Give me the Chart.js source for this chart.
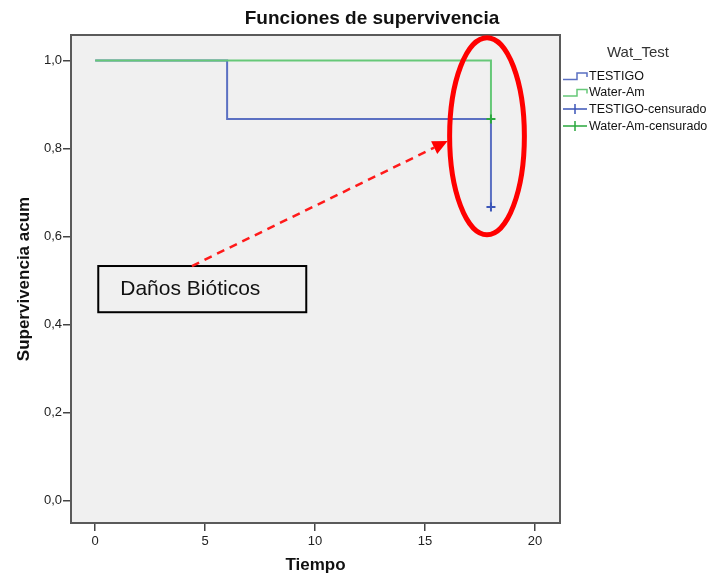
<!DOCTYPE html>
<html lang="es">
<head>
<meta charset="utf-8">
<title>Funciones de supervivencia</title>
<script src="https://cdn.jsdelivr.net/npm/chart.js@4.4.1/dist/chart.umd.min.js"></script>
<style>
  html, body { margin: 0; padding: 0; background: #fff; }
  #wrap { width: 715px; height: 579px; position: relative; }
</style>
</head>
<body>
<div id="wrap"><canvas id="chart"></canvas></div>
<script>
// Kaplan-Meier steps
const tiemposTestigo = [0, 6, 18];
const survTestigo = [1.0, 0.867, 0.667];
const tiemposWater = [0, 18];
const survWater = [1.0, 0.867];

// censored observations (plotted as +)
const censTestigoT = [18];
const censTestigoS = [0.667];
const censWaterT = [18];
const censWaterS = [0.867];

const xTicks = [0, 5, 10, 15, 20];
const yTicks = [0, 0.2, 0.4, 0.6, 0.8, 1.0];

const FONT = '"Liberation Sans", Arial, sans-serif';
const BLUE = "#5b70c2";
const GREEN = "#66c878";
const BLUE_MARK = "#3c56b8";
const GREEN_MARK = "#2aa83e";

const toPoints = (xs, ys) => xs.map((x, i) => ({ x, y: ys[i] }));

// legend entries, in SPSS order
const legendItems = [
  { label: "TESTIGO", color: BLUE, kind: "step" },
  { label: "Water-Am", color: GREEN, kind: "step" },
  { label: "TESTIGO-censurado", color: BLUE_MARK, kind: "cross" },
  { label: "Water-Am-censurado", color: GREEN_MARK, kind: "cross" },
];

/** Background, frame, title, legend and the hand-drawn annotation. */
const decor = {
  id: "decor",
  beforeDraw(chart) {
    const { ctx, chartArea: a } = chart;
    ctx.save();
    ctx.fillStyle = "#ffffff";
    ctx.fillRect(0, 0, chart.width, chart.height);
    ctx.fillStyle = "#f0f0f0";
    ctx.fillRect(a.left, a.top, a.right - a.left, a.bottom - a.top);
    ctx.restore();
  },
  beforeDatasetsDraw(chart) {
    const { ctx, chartArea: a } = chart;
    ctx.save();
    ctx.strokeStyle = "#5a5a5a";
    ctx.lineWidth = 2;
    ctx.strokeRect(a.left, a.top, a.right - a.left, a.bottom - a.top);
    ctx.restore();
  },
  afterDraw(chart) {
    const { ctx } = chart;
    const xs = chart.scales.x, ys = chart.scales.y;
    const px = (v) => xs.getPixelForValue(v);
    const py = (v) => ys.getPixelForValue(v);
    ctx.save();

    // title
    ctx.fillStyle = "#111";
    ctx.font = "bold 19px " + FONT;
    ctx.textAlign = "center";
    ctx.textBaseline = "middle";
    ctx.fillText("Funciones de supervivencia", 372, 19);

    // legend
    ctx.font = "15px " + FONT;
    ctx.fillStyle = "#333";
    ctx.fillText("Wat_Test", 638, 53);
    ctx.font = "12.5px " + FONT;
    ctx.textAlign = "left";
    const rowY = [76, 92.5, 109, 126];
    legendItems.forEach((it, i) => {
      const y = rowY[i];
      ctx.strokeStyle = it.color;
      ctx.lineWidth = 1.5;
      ctx.beginPath();
      if (it.kind === "step") {
        ctx.moveTo(563, y + 3.5);
        ctx.lineTo(577, y + 3.5);
        ctx.lineTo(577, y - 3);
        ctx.lineTo(587, y - 3);
        ctx.lineTo(587, y + 1);
      } else {
        ctx.moveTo(563, y);
        ctx.lineTo(587, y);
        ctx.moveTo(575, y - 5);
        ctx.lineTo(575, y + 5);
      }
      ctx.stroke();
      ctx.fillStyle = "#111";
      ctx.fillText(it.label, 589, y + 0.5);
    });

    // annotation box
    const bx0 = px(0.14), bx1 = px(9.6), by0 = py(0.533), by1 = py(0.428);
    ctx.fillStyle = "#f0f0f0";
    ctx.fillRect(bx0, by0, bx1 - bx0, by1 - by0);
    ctx.strokeStyle = "#000";
    ctx.lineWidth = 2;
    ctx.strokeRect(bx0, by0, bx1 - bx0, by1 - by0);
    ctx.fillStyle = "#111";
    ctx.font = "21px " + FONT;
    ctx.textBaseline = "middle";
    ctx.fillText("Daños Bióticos", px(1.14), py(0.481));

    // dashed arrow
    const ax0 = px(4.4), ay0 = py(0.533), ax1 = px(16.03), ay1 = py(0.817);
    const ang = Math.atan2(ay1 - ay0, ax1 - ax0);
    const head = 15, hw = 7;
    const bxh = ax1 - head * Math.cos(ang), byh = ay1 - head * Math.sin(ang);
    ctx.strokeStyle = "#ff1a1a";
    ctx.lineWidth = 2.5;
    ctx.setLineDash([8, 6]);
    ctx.beginPath();
    ctx.moveTo(ax0, ay0);
    ctx.lineTo(bxh, byh);
    ctx.stroke();
    ctx.setLineDash([]);
    ctx.fillStyle = "#ff0000";
    ctx.beginPath();
    ctx.moveTo(ax1, ay1);
    ctx.lineTo(bxh + hw * Math.sin(ang), byh - hw * Math.cos(ang));
    ctx.lineTo(bxh - hw * Math.sin(ang), byh + hw * Math.cos(ang));
    ctx.closePath();
    ctx.fill();

    // red ellipse around the censored marks
    const cx = px(17.82), cy = py(0.828);
    const rx = px(17.82 + 1.7) - cx, ry = py(0.828 - 0.224) - cy;
    ctx.strokeStyle = "#ff0000";
    ctx.lineWidth = 5;
    ctx.beginPath();
    ctx.ellipse(cx, cy, rx, ry, 0, 0, Math.PI * 2);
    ctx.stroke();

    ctx.restore();
  },
};

const axisTickStyle = { color: "#222", font: { family: FONT, size: 13 } };

new Chart(document.getElementById("chart"), {
  data: {
    datasets: [
      {
        type: "line",
        label: "TESTIGO",
        data: toPoints(tiemposTestigo, survTestigo),
        stepped: "before",
        borderColor: BLUE,
        borderWidth: 2,
        pointRadius: 0,
        fill: false,
        order: 3,
      },
      {
        type: "line",
        label: "Water-Am",
        data: toPoints(tiemposWater, survWater),
        stepped: "before",
        borderColor: GREEN,
        borderWidth: 2,
        pointRadius: 0,
        fill: false,
        order: 2,
      },
      {
        type: "scatter",
        label: "TESTIGO-censurado",
        data: toPoints(censTestigoT, censTestigoS),
        pointStyle: "cross",
        pointRadius: 4.5,
        borderColor: BLUE_MARK,
        borderWidth: 2,
        order: 1,
      },
      {
        type: "scatter",
        label: "Water-Am-censurado",
        data: toPoints(censWaterT, censWaterS),
        pointStyle: "cross",
        pointRadius: 4.5,
        borderColor: GREEN_MARK,
        borderWidth: 2,
        order: 0,
      },
    ],
  },
  options: {
    responsive: true,
    maintainAspectRatio: false,
    animation: false,
    layout: { padding: { top: 35, right: 155, left: 0, bottom: 0 } },
    plugins: { legend: { display: false }, tooltip: { enabled: false }, title: { display: false } },
    scales: {
      x: {
        type: "linear",
        min: -1.1,
        max: 21.14,
        afterBuildTicks: (s) => { s.ticks = xTicks.map((v) => ({ value: v })); },
        afterFit: (s) => { s.height = 56; },
        ticks: { ...axisTickStyle, padding: 3, callback: (v) => String(v) },
        grid: { drawOnChartArea: false, drawTicks: true, tickLength: 8, color: "#444", lineWidth: 1.5 },
        border: { display: false },
        title: {
          display: true,
          text: "Tiempo",
          color: "#111",
          font: { family: FONT, size: 17, weight: "bold" },
          padding: { top: 0, bottom: 3 },
        },
      },
      y: {
        type: "linear",
        min: -0.051,
        max: 1.058,
        afterBuildTicks: (s) => { s.ticks = yTicks.map((v) => ({ value: v })); },
        afterFit: (s) => { s.width = 71; },
        ticks: { ...axisTickStyle, padding: 1, callback: (v) => v.toFixed(1).replace(".", ",") },
        grid: { drawOnChartArea: false, drawTicks: true, tickLength: 8, color: "#444", lineWidth: 1.5 },
        border: { display: false },
        title: {
          display: true,
          text: "Supervivencia acum",
          color: "#111",
          font: { family: FONT, size: 17, weight: "bold" },
          padding: { top: 14, bottom: 0 },
        },
      },
    },
  },
  plugins: [decor],
});
</script>
</body>
</html>
